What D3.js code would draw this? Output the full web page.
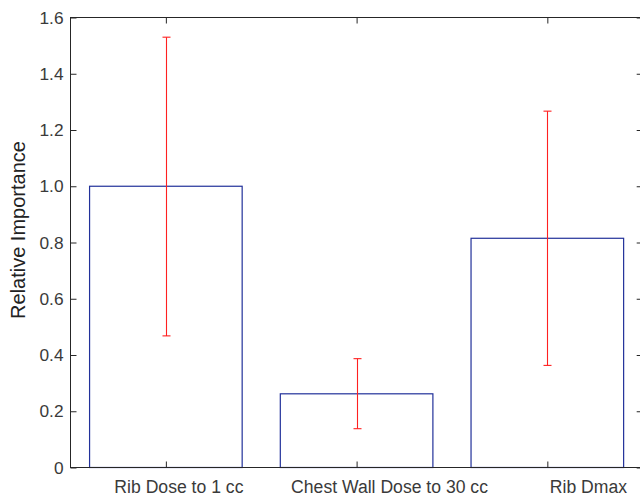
<!DOCTYPE html>
<html><head><meta charset="utf-8">
<script src="https://cdn.jsdelivr.net/npm/d3@7"></script>
<style>body{margin:0;background:#fff}svg{display:block}</style>
</head><body>
<script>
const categories = ["Rib Dose to 1 cc", "Chest Wall Dose to 30 cc", "Rib Dmax"];
const values = [1.0, 0.262, 0.815];
const errUpper = [1.530, 0.387, 1.267];
const errLower = [0.468, 0.138, 0.363];
const yTicks = [0, 0.2, 0.4, 0.6, 0.8, 1.0, 1.2, 1.4, 1.6];
const yTickLabels = ["0", "0.2", "0.4", "0.6", "0.8", "1.0", "1.2", "1.4", "1.6"];

(function () {
const W = 640, H = 496;
const svg = d3.select("body").append("svg").attr("width", W).attr("height", H);
const mL = 70.5, mR = 642.7, mT = 17.5, mB = 467.5;
const x = d3.scaleLinear().domain([0.5, 3.5]).range([mL, mR]);
const y = d3.scaleLinear().domain([0, 1.6]).range([mB, mT]);
const font = "'Liberation Sans', Arial, Helvetica, sans-serif";
const axisCol = "#262626";
const textCol = "#3a3a3a";
const bw = 0.8;
// label start offsets from the tick (the reference labels are not centred)
const labelShift = [-52, -66, 2];

// bars
svg.selectAll("rect.bar").data(values).enter().append("rect")
  .attr("x", (d, i) => x(i + 1 - bw / 2))
  .attr("y", d => y(d))
  .attr("width", (d, i) => x(i + 1 + bw / 2) - x(i + 1 - bw / 2))
  .attr("height", d => y(0) - y(d))
  .attr("fill", "none").attr("stroke", "#22319a").attr("stroke-width", 1.2);

// error bars
const eg = svg.append("g").attr("stroke", "#ff2020").attr("stroke-width", 1.1);
categories.forEach((c, i) => {
  const cx = Math.round(x(i + 1)) + 0.5;
  eg.append("line").attr("x1", cx).attr("x2", cx).attr("y1", y(errUpper[i])).attr("y2", y(errLower[i]));
  eg.append("line").attr("x1", cx - 4).attr("x2", cx + 4).attr("y1", y(errUpper[i])).attr("y2", y(errUpper[i]));
  eg.append("line").attr("x1", cx - 4).attr("x2", cx + 4).attr("y1", y(errLower[i])).attr("y2", y(errLower[i]));
});

// axes box
svg.append("rect").attr("x", mL).attr("y", mT).attr("width", mR - mL).attr("height", mB - mT)
  .attr("fill", "none").attr("stroke", axisCol).attr("stroke-width", 1);

// y ticks (left and right, inward)
const yAxisL = d3.axisLeft(y).tickValues(yTicks).tickSizeInner(-6).tickSizeOuter(0).tickPadding(7)
  .tickFormat((d, i) => yTickLabels[i]);
const gL = svg.append("g").attr("transform", `translate(${mL},0)`).call(yAxisL);
gL.select(".domain").remove();
gL.selectAll("line").attr("stroke", axisCol);
gL.selectAll("text").attr("font-family", font).attr("font-size", 17.3).attr("fill", textCol);

const gR = svg.append("g").attr("transform", `translate(${mR},0)`)
  .call(d3.axisRight(y).tickValues(yTicks).tickSizeInner(-6).tickSizeOuter(0).tickFormat(""));
gR.select(".domain").remove();
gR.selectAll("line").attr("stroke", axisCol);

// x ticks (bottom and top, inward)
const xAxisB = d3.axisBottom(x).tickValues([1, 2, 3]).tickSizeInner(-6).tickSizeOuter(0).tickPadding(13)
  .tickFormat((d, i) => categories[i]);
const gB = svg.append("g").attr("transform", `translate(0,${mB})`).call(xAxisB);
gB.select(".domain").remove();
gB.selectAll("line").attr("stroke", axisCol);
gB.selectAll("text").attr("font-family", font).attr("font-size", 17.6).attr("fill", textCol)
  .attr("text-anchor", "start").attr("dx", (d, i) => labelShift[i]);

const gT = svg.append("g").attr("transform", `translate(0,${mT})`)
  .call(d3.axisTop(x).tickValues([1, 2, 3]).tickSizeInner(-6).tickSizeOuter(0).tickFormat(""));
gT.select(".domain").remove();
gT.selectAll("line").attr("stroke", axisCol);

// y label
svg.append("text").attr("transform", `translate(25,230) rotate(-90)`)
  .attr("text-anchor", "middle").attr("font-family", font).attr("font-size", 20).attr("fill", "#222")
  .text("Relative Importance");
})();
</script>
</body></html>
